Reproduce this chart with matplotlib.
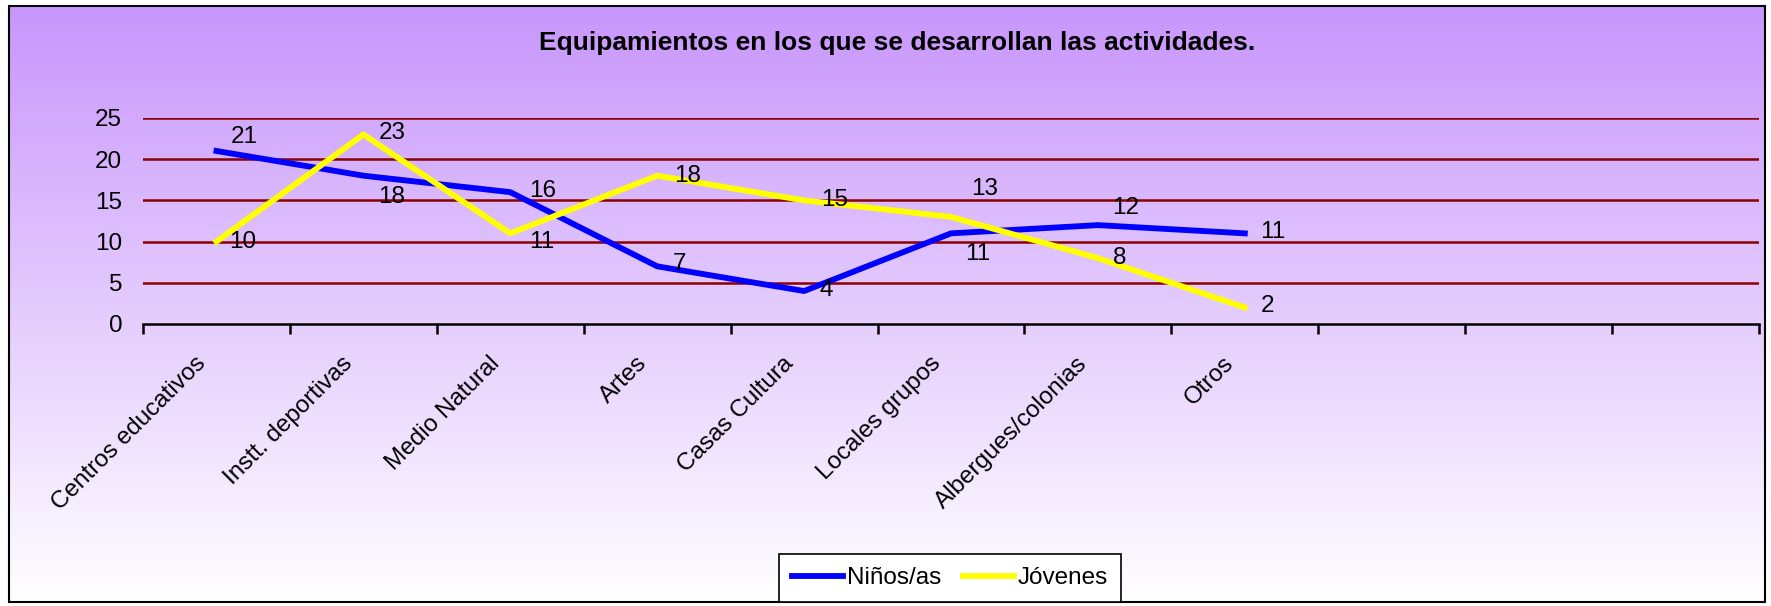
import numpy as np
import matplotlib.pyplot as plt
from matplotlib.patches import Rectangle
from matplotlib.transforms import ScaledTranslation

plt.rcParams['font.family'] = ['Liberation Sans', 'DejaVu Sans']

# Data
categorias = ['Centros educativos', 'Instt. deportivas', 'Medio Natural', 'Artes',
              'Casas Cultura', 'Locales grupos', 'Albergues/colonias', 'Otros', '', '', '']
ninos = [21, 18, 16, 7, 4, 11, 12, 11]
jovenes = [10, 23, 11, 18, 15, 13, 8, 2]
yticks = [0, 5, 10, 15, 20, 25]
titulo = 'Equipamientos en los que se desarrollan las actividades.'

# label offsets in points (placement only)
off_ninos = [(20, 10), (20, -15), (23, 1), (16, 2), (16, 1), (19, -15), (20, 12), (20, 1)]
off_jov = [(19, 0), (21, 1), (23, -6), (22, 0), (22, 0), (24, 20), (16, 0), (16, 1)]

FS = 17.5
W, H = 1771, 606
fig = plt.figure(figsize=(W / 100, H / 100), dpi=100)

# gradient background inside the border
bx0, by0, bx1, by1 = 9, 6, 1765, 602
bg = fig.add_axes([bx0 / W, 1 - by1 / H, (bx1 - bx0) / W, (by1 - by0) / H], zorder=-2)
top = np.array([200, 150, 252]) / 255
bot = np.array([255, 255, 255]) / 255
t = np.linspace(0, 1, 256)[:, None]
grad = top[None, :] * (1 - t) + bot[None, :] * t
bg.imshow(grad[:, None, :], aspect='auto', extent=[0, 1, 0, 1])
bg.axis('off')
fig.patches.append(Rectangle((bx0 / W, 1 - by1 / H), (bx1 - bx0) / W, (by1 - by0) / H,
                             transform=fig.transFigure, fill=False, edgecolor='black',
                             linewidth=1.5, zorder=5))

ax = fig.add_axes([143 / W, 1 - 324 / H, (1759 - 143) / W, (324 - 118) / H])
ax.set_facecolor('none')

x = np.arange(len(categorias))
ax.plot(x[:len(ninos)], ninos, color='#0000FF', linewidth=4.2, label='Niños/as', zorder=3)
ax.plot(x[:len(jovenes)], jovenes, color='#FFFF00', linewidth=4.2, label='Jóvenes', zorder=3)

for xi, v, o in zip(x, ninos, off_ninos):
    ax.annotate(str(v), (xi, v), xytext=o, textcoords='offset points',
                ha='center', va='center', fontsize=FS, zorder=4)
for xi, v, o in zip(x, jovenes, off_jov):
    ax.annotate(str(v), (xi, v), xytext=o, textcoords='offset points',
                ha='center', va='center', fontsize=FS, zorder=4)

ax.set_xlim(-0.5, len(categorias) - 0.5)
ax.set_ylim(0, 25)
ax.set_yticks(yticks)
ax.tick_params(axis='y', length=0, pad=15, labelsize=FS)
for yv in yticks[1:]:
    ax.axhline(yv, color='#8B0000', linewidth=1.8, zorder=1)

ax.set_xticks(x)
ax.set_xticklabels(categorias, rotation=45, ha='right', va='center',
                   rotation_mode='anchor', fontsize=FS)
ax.set_xticks(np.arange(-0.5, len(categorias)), minor=True)
ax.tick_params(axis='x', which='major', length=0, pad=26)
ax.tick_params(axis='x', which='minor', length=7, width=1.8, direction='out', color='black')
shift = ScaledTranslation(-10 / 72, 0, fig.dpi_scale_trans)
for lbl in ax.get_xticklabels():
    lbl.set_transform(lbl.get_transform() + shift)

for s in ['left', 'right', 'top']:
    ax.spines[s].set_visible(False)
ax.spines['bottom'].set_linewidth(1.8)

fig.text(897 / W, 1 - 43 / H, titulo, ha='center', va='center', fontsize=19, fontweight='bold')

leg = fig.legend(loc='center', bbox_to_anchor=(950 / W, 1 - 578 / H), ncol=2, fontsize=FS,
                 frameon=True, fancybox=False, edgecolor='black', framealpha=1,
                 handlelength=2.1, handletextpad=0.15, columnspacing=0.9, borderpad=0.55)
leg.get_frame().set_linewidth(1.2)

fig.savefig('out.png', dpi=100)
